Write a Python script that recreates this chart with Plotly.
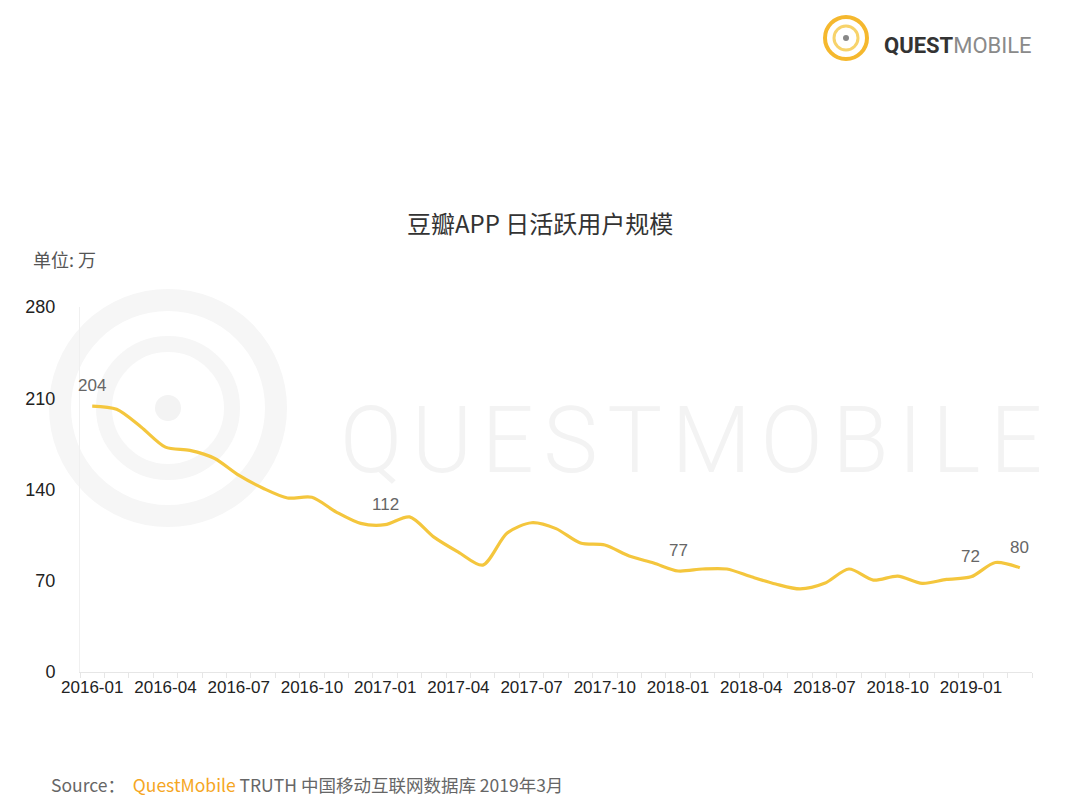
import plotly.graph_objects as go

months = [
    "2016-01","2016-02","2016-03","2016-04","2016-05","2016-06","2016-07","2016-08","2016-09","2016-10","2016-11","2016-12",
    "2017-01","2017-02","2017-03","2017-04","2017-05","2017-06","2017-07","2017-08","2017-09","2017-10","2017-11","2017-12",
    "2018-01","2018-02","2018-03","2018-04","2018-05","2018-06","2018-07","2018-08","2018-09","2018-10","2018-11","2018-12",
    "2019-01","2019-02","2019-03",
]
dau = [
    204, 201.5, 188, 172.5, 170, 164, 151, 141, 133.5, 134, 122.7, 114,
    113, 119, 103.5, 92, 82, 106.6, 114.5, 110, 99, 97.4, 89, 83.6,
    77.5, 79, 79, 73, 67.5, 63.7, 68, 79, 70.5, 73.6, 68, 71,
    73, 84, 80,
]
label_months = ["2016-01", "2017-01", "2018-01", "2019-01", "2019-03"]
label_text = ["204", "112", "77", "72", "80"]

tick_months = months[0:37:3]
y_ticks = [0, 70, 140, 210, 280]

x_idx = list(range(len(months)))
idx_of = {m: i for i, m in enumerate(months)}

# page body has an 8px margin: figure coordinates = screen coordinates - 8
OFF = 8
W, H = 1072, 801
L, T = 80 - OFF, 307 - OFF
R = W - (1032 - OFF)
B = H - (672 - OFF)
pw, ph = W - L - R, H - T - B

def px(x):
    return (x - OFF - L) / pw

def py(y):
    return (H - B - (y - OFF)) / ph

fig = go.Figure()
fig.add_trace(go.Scatter(
    x=x_idx, y=dau, mode="lines",
    line=dict(color="#F4C63D", width=3.2, shape="spline", smoothing=0.8),
    hoverinfo="skip", showlegend=False,
))

shapes = []
# watermark icon (faint)
cx, cy = 168, 408
for r, w in [(108, 22), (64, 16)]:
    shapes.append(dict(type="circle", xref="paper", yref="paper",
                       x0=px(cx - r), x1=px(cx + r), y0=py(cy + r), y1=py(cy - r),
                       line=dict(color="#F6F6F6", width=w), layer="below"))
shapes.append(dict(type="circle", xref="paper", yref="paper",
                   x0=px(cx - 13), x1=px(cx + 13), y0=py(cy + 13), y1=py(cy - 13),
                   fillcolor="#F3F3F3", line=dict(width=0), layer="below"))
# top-right logo icon
lx, ly = 846, 38
shapes.append(dict(type="circle", xref="paper", yref="paper",
                   x0=px(lx - 21), x1=px(lx + 21), y0=py(ly + 21), y1=py(ly - 21),
                   line=dict(color="#F5B82E", width=4)))
shapes.append(dict(type="circle", xref="paper", yref="paper",
                   x0=px(lx - 12), x1=px(lx + 12), y0=py(ly + 12), y1=py(ly - 12),
                   line=dict(color="#F7D36B", width=3)))
shapes.append(dict(type="circle", xref="paper", yref="paper",
                   x0=px(lx - 3), x1=px(lx + 3), y0=py(ly + 3), y1=py(ly - 3),
                   fillcolor="#888888", line=dict(width=0)))

watermark = "\u200a".join("QUESTMOBILE")

annotations = [
    dict(text=watermark, x=px(338), y=py(440), xref="paper", yref="paper",
         showarrow=False, xanchor="left", yanchor="middle",
         font=dict(family="Roboto", size=92, color="#F3F3F3", weight=300)),
    dict(text="豆瓣APP 日活跃用户规模", x=px(540), y=py(222), xref="paper", yref="paper",
         showarrow=False, xanchor="center", yanchor="middle",
         font=dict(family="Noto Sans CJK SC", size=24, color="#333333")),
    dict(text="单位: 万", x=px(31), y=py(259), xref="paper", yref="paper",
         showarrow=False, xanchor="left", yanchor="middle",
         font=dict(family="Noto Sans CJK SC", size=18, color="#555555")),
    dict(text="Source：  <span style='color:#F5A623'>QuestMobile</span> TRUTH 中国移动互联网数据库 2019年3月",
         x=px(49), y=py(784), xref="paper", yref="paper",
         showarrow=False, xanchor="left", yanchor="middle",
         font=dict(family="Noto Sans CJK SC", size=17.5, color="#666666")),
    dict(text="<b>QUEST</b><span style='color:#8a8a8a'>MOBILE</span>",
         x=px(882), y=py(45), xref="paper", yref="paper",
         showarrow=False, xanchor="left", yanchor="middle",
         font=dict(family="Roboto", size=22, color="#333333")),
]
for m, t in zip(label_months, label_text):
    i = idx_of[m]
    annotations.append(dict(
        text=t, x=i, y=dau[i], xref="x", yref="y", showarrow=False,
        xanchor="center", yanchor="bottom", yshift=9,
        font=dict(family="Liberation Sans, Arial", size=17, color="#666666"),
    ))

fig.update_layout(
    width=W, height=H,
    margin=dict(l=L, r=R, t=T, b=B, pad=0),
    paper_bgcolor="white", plot_bgcolor="rgba(0,0,0,0)",
    shapes=shapes, annotations=annotations,
    font=dict(family="Liberation Sans, Arial", color="#222222"),
)
fig.update_xaxes(
    range=[-0.5, len(months) - 0.5],
    tickmode="array", tickvals=[idx_of[m] for m in tick_months], ticktext=tick_months,
    ticks="", showgrid=False, zeroline=False,
    showline=True, linecolor="#E6E6E6", linewidth=1,
    tickfont=dict(family="Liberation Sans Narrow, Liberation Sans", size=17, color="#222222"),
    minor=dict(tickmode="linear", tick0=-0.5, dtick=1, ticks="outside", ticklen=5, tickcolor="#E6E6E6"),
    fixedrange=True,
)
fig.update_yaxes(
    range=[0, 280], tickmode="array", tickvals=y_ticks,
    showgrid=False, zeroline=False, showline=True, linecolor="#F0F0F0", linewidth=1,
    ticks="", ticklabelstandoff=20,
    tickfont=dict(family="Liberation Sans, Arial", size=18, color="#222222"),
    fixedrange=True,
)

fig.write_html("out.html")
